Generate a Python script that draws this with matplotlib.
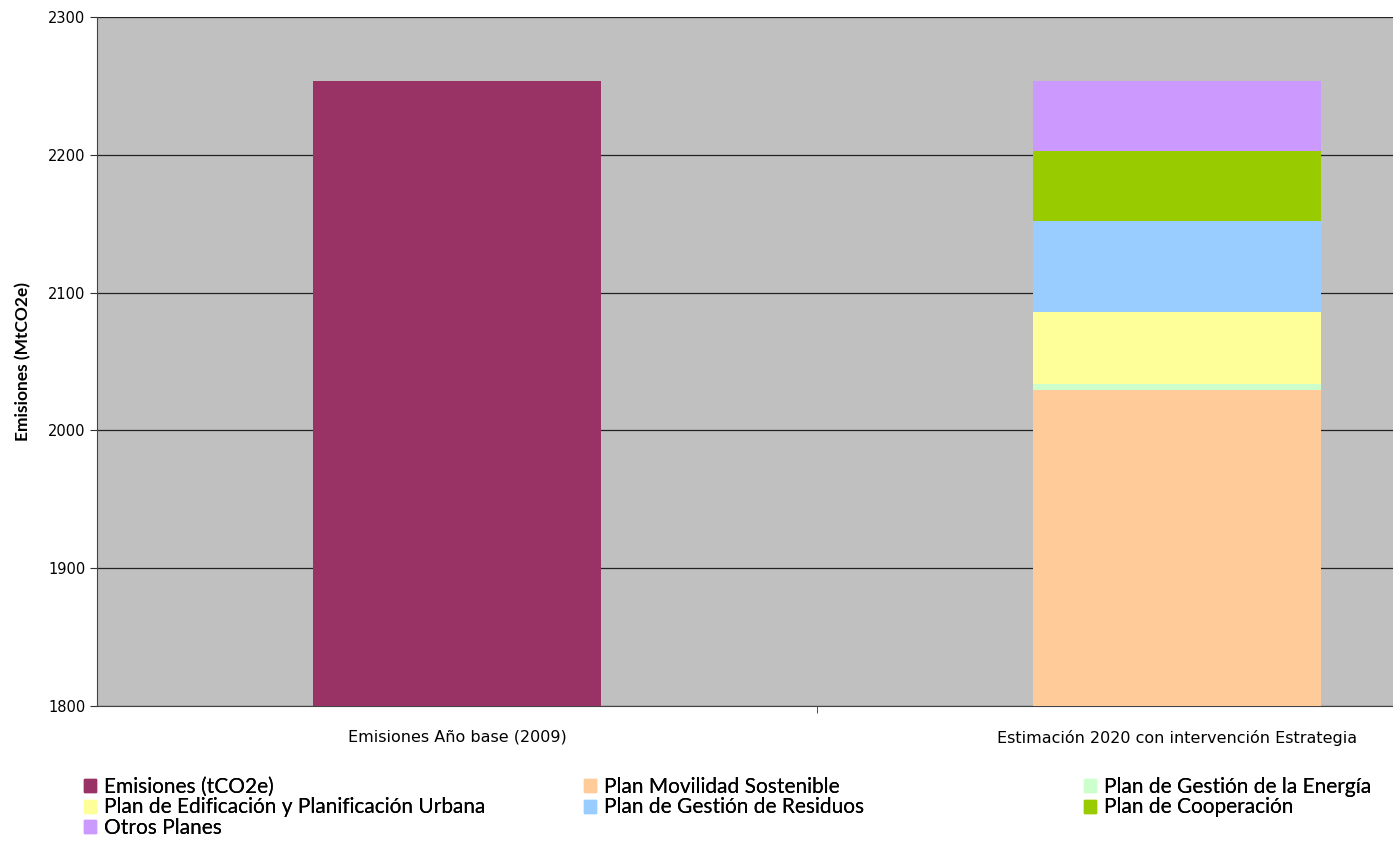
import numpy as np
import matplotlib.pyplot as plt
from matplotlib.patches import Patch

categories = ['Emisiones Año base (2009)', 'Estimación 2020 con intervención Estrategia']

# first bar
emisiones = [2253.5, 0]

# stacked bar (second category)
series_names = ['Plan Movilidad Sostenible', 'Plan de Gestión de la Energía',
                'Plan de Edificación y Planificación Urbana', 'Plan de Gestión de Residuos',
                'Plan de Cooperación', 'Otros Planes']
series_vals = [2029.3, 4.6, 52.2, 66.0, 50.8, 50.6]
series_colors = ['#FFCC99', '#CCFFCC', '#FFFF99', '#99CCFF', '#99CC00', '#CC99FF']
emis_color = '#993366'

fig = plt.figure(figsize=(13.93, 8.41), dpi=100)
ax = fig.add_axes([97/1393, 1-706/841, 1-97/1393, (706-17)/841])
ax.set_facecolor('#C0C0C0')

x = np.arange(len(categories))
w = 0.4
ax.bar(x[0], emisiones[0], w, color=emis_color, zorder=3)
bottom = 0
for name, v, c in zip(series_names, series_vals, series_colors):
    ax.bar(x[1], v, w, bottom=bottom, color=c, zorder=3)
    bottom += v

ax.set_ylim(1800, 2300)
ax.set_yticks(np.arange(1800, 2301, 100))
ax.set_xlim(-0.5, -0.5 + 1296/720)
ax.set_xticks(x)
ax.set_xticklabels(categories, fontsize=11.5)
ax.set_xticks([0.5], minor=True)
ax.tick_params(axis='x', which='major', length=0, pad=17)
ax.tick_params(axis='x', which='minor', length=5, direction='out', color='#333333')
ax.tick_params(axis='y', length=5, direction='out', labelsize=10.5, color='#333333')
ax.grid(axis='y', color='#222222', linewidth=0.9, zorder=1)
for s in ['top', 'right']:
    ax.spines[s].set_visible(False)
for s in ['left', 'bottom']:
    ax.spines[s].set_color('#444444')

ax.set_ylabel('Emisiones (MtCO2e)', fontsize=12.5, fontweight='bold', family='Lato', labelpad=12)

# legend, row-wise in three columns
handles = [Patch(color=emis_color, label='Emisiones (tCO2e)')]
handles += [Patch(color=c, label=n) for n, c in zip(series_names, series_colors)]
cols = [[handles[0], handles[3], handles[6]],
        [handles[1], handles[4]],
        [handles[2], handles[5]]]
xs = [84, 584, 1084]
for xp, col in zip(xs, cols):
    leg = fig.legend(handles=col, loc='upper left', bbox_to_anchor=(xp/1393, 1-777/841),
                     frameon=False, borderpad=0, borderaxespad=0, labelspacing=0.02,
                     handlelength=0.58, handleheight=0.58, handletextpad=0.38,
                     prop={'family': 'Lato', 'size': 15})
    fig.add_artist(leg)

fig.savefig('out.png', dpi=100)
